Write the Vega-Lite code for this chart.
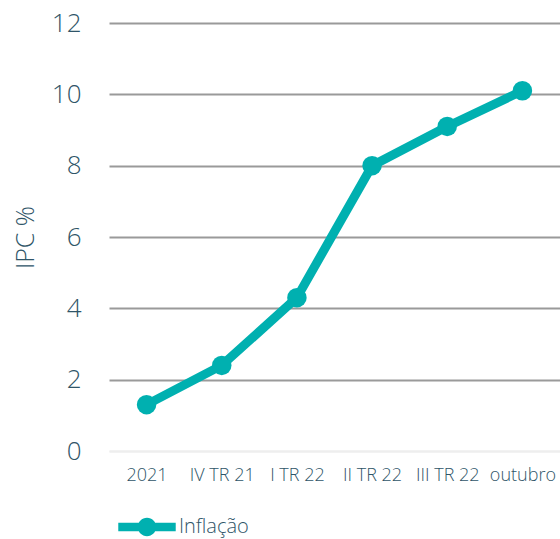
{
  "$schema": "https://vega.github.io/schema/vega-lite/v6.json",
  "autosize": "none",
  "width": 451,
  "height": 428,
  "padding": {"left": 109, "top": 23, "right": 0, "bottom": 88},
  "background": "white",
  "config": {
    "view": {"stroke": null},
    "font": "Open Sans"
  },
  "data": {
    "values": [
      {"periodo": "2021", "ipc": 1.3, "serie": "Inflação"},
      {"periodo": "IV TR 21", "ipc": 2.4, "serie": "Inflação"},
      {"periodo": "I TR 22", "ipc": 4.3, "serie": "Inflação"},
      {"periodo": "II TR 22", "ipc": 8.0, "serie": "Inflação"},
      {"periodo": "III TR 22", "ipc": 9.1, "serie": "Inflação"},
      {"periodo": "outubro", "ipc": 10.1, "serie": "Inflação"}
    ]
  },
  "encoding": {
    "x": {
      "field": "periodo",
      "type": "ordinal",
      "sort": null,
      "scale": {"type": "point", "padding": 0.5},
      "axis": {
        "title": null,
        "labelAngle": 0,
        "labelFontSize": 18,
        "labelFontWeight": 300,
        "labelColor": "#2F5568",
        "labelFont": "Open Sans",
        "labelPadding": 15,
        "ticks": false,
        "domain": true,
        "domainColor": "#eeeeee",
        "domainWidth": 2,
        "grid": false
      }
    },
    "y": {
      "field": "ipc",
      "type": "quantitative",
      "scale": {"domain": [0, 12], "nice": false},
      "axis": {
        "values": [0, 2, 4, 6, 8, 10, 12],
        "title": "IPC %",
        "titleFontSize": 25,
        "titleFontWeight": 300,
        "titleFont": "Open Sans",
        "titleColor": "#2F5568",
        "titlePadding": 13,
        "labelFontSize": 26,
        "labelFontWeight": 300,
        "labelFont": "Open Sans",
        "labelColor": "#2F5568",
        "labelPadding": 28,
        "ticks": false,
        "domain": false,
        "gridColor": {"condition": {"test": "datum.value === 0", "value": "#eeeeee"}, "value": "#9a9a9a"},
        "gridWidth": 2
      }
    },
    "color": {
      "field": "serie",
      "type": "nominal",
      "scale": {"range": ["#00B0B0"]},
      "legend": {
        "title": null,
        "orient": "none",
        "legendX": 9,
        "legendY": 475,
        "symbolType": "M-1,-0.15H1V0.15H-1Z M-0.32,0 A0.32,0.32 0 1,1 0.32,0 A0.32,0.32 0 1,1 -0.32,0Z",
        "symbolSize": 3300,
        "symbolFillColor": "#00B0B0",
        "symbolStrokeWidth": 0,
        "labelFontSize": 20,
        "labelFontWeight": 300,
        "labelFont": "Open Sans",
        "labelColor": "#2F5568",
        "labelOffset": 3
      }
    }
  },
  "layer": [
    {"mark": {"type": "line", "strokeWidth": 9}},
    {"mark": {"type": "point", "filled": true, "opacity": 1, "size": 380}}
  ]
}
